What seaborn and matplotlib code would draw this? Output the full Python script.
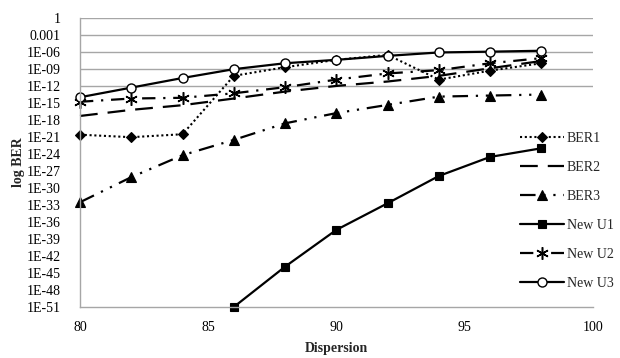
import numpy as np
import pandas as pd
import seaborn as sns
import matplotlib
matplotlib.use("Agg")
import matplotlib.pyplot as plt

# values
dispersion = [80, 82, 84, 86, 88, 90, 92, 94, 96, 98]
dispersion_u1 = [86, 88, 90, 92, 94, 96, 98]

ber1 = [2.5e-21, 9e-22, 3e-21, 6e-11, 2e-9, 4e-8, 3e-7, 1.3e-11, 5e-10, 1e-8]
ber2 = [5e-18, 6e-17, 4e-16, 6e-15, 1e-13, 1e-12, 6e-12, 6e-11, 1.3e-9, 2.5e-8]
ber3 = [3e-33, 8e-29, 6e-25, 3e-22, 2.5e-19, 1.6e-17, 4.5e-16, 1.3e-14, 2e-14, 3e-14]
new_u1 = [1e-51, 1.3e-44, 4e-38, 2e-33, 1.3e-28, 3e-25, 1e-23]
new_u2 = [1.6e-15, 6e-15, 8e-15, 5e-14, 6e-13, 1.3e-11, 1.6e-10, 6e-10, 1e-8, 8e-8]
new_u3 = [1e-14, 5e-13, 2.5e-11, 9e-10, 1e-8, 4e-8, 2e-7, 8e-7, 1.1e-6, 1.6e-6]

y_ticks = [10.0 ** -e for e in range(0, 52, 3)]
y_tick_labels = ["1", "0.001"] + ["1E-%02d" % e for e in range(6, 52, 3)]
grid_values = [1, 1e-3, 1e-6, 1e-9, 1e-12]
x_ticks = [80, 85, 90, 95, 100]

sns.set_style("white")
plt.rcParams['font.family'] = ['Liberation Serif', 'DejaVu Serif']

fig = plt.figure(figsize=(6.2, 3.58), dpi=100)
ax = fig.add_axes([0.129, 0.1425, 0.827, 0.8075])

for g in grid_values:
    ax.axhline(g, color="#a6a6a6", lw=1, zorder=0)

series = [
    ("BER1", dispersion, ber1, dict(linestyle=(0, (1, 1.3)), lw=1.5, marker="D", ms=5.5)),
    ("BER2", dispersion, ber2, dict(linestyle=(0, (8, 4.5)), lw=1.6, marker=None)),
    ("BER3", dispersion, ber3, dict(linestyle=(0, (7, 3.5, 1, 3.5, 1, 3.5)), lw=1.6,
                                    marker="^", ms=6.5)),
    ("New U1", dispersion_u1, new_u1, dict(linestyle="-", lw=1.6, marker="s", ms=6)),
    ("New U2", dispersion, new_u2, dict(linestyle=(0, (6, 3.5, 1, 3.5)), lw=1.6,
                                         marker=(6, 2, 0), ms=9, mew=1.1)),
    ("New U3", dispersion, new_u3, dict(linestyle="-", lw=1.6, marker="o", ms=6.5,
                                         mfc="white", mew=1)),
]

for name, xs, ys, style in series:
    df = pd.DataFrame({"x": xs, "y": ys})
    style.setdefault("mew", 0.8)
    sns.lineplot(data=df, x="x", y="y", ax=ax, color="black", label=name,
                 mec="black", clip_on=False, **style)

ax.set_yscale("log")
ax.set_ylim(1e-51, 1)
ax.set_xlim(80, 100)
ax.set_yticks(y_ticks)
ax.set_yticklabels(y_tick_labels)
ax.minorticks_off()
ax.set_xticks(x_ticks)
ax.tick_params(axis="both", length=0, labelsize=10, colors="black")
ax.tick_params(axis="y", pad=14)
ax.tick_params(axis="x", pad=10)

for side in ["top", "right"]:
    ax.spines[side].set_visible(False)
for side in ["left", "bottom"]:
    ax.spines[side].set_color("#a6a6a6")
    ax.spines[side].set_linewidth(1)

ax.set_xlabel("Dispersion", fontsize=10, fontweight="bold", labelpad=6)
ax.set_ylabel("log BER", fontsize=10, fontweight="bold", labelpad=1)

leg = ax.legend(loc="upper left", bbox_to_anchor=(0.838, 0.632),
                bbox_transform=fig.transFigure, frameon=False, fontsize=10,
                handlelength=3.2, handletextpad=0.2, labelspacing=1.15,
                borderpad=0, borderaxespad=0)

fig.savefig("out.png", dpi=100)
